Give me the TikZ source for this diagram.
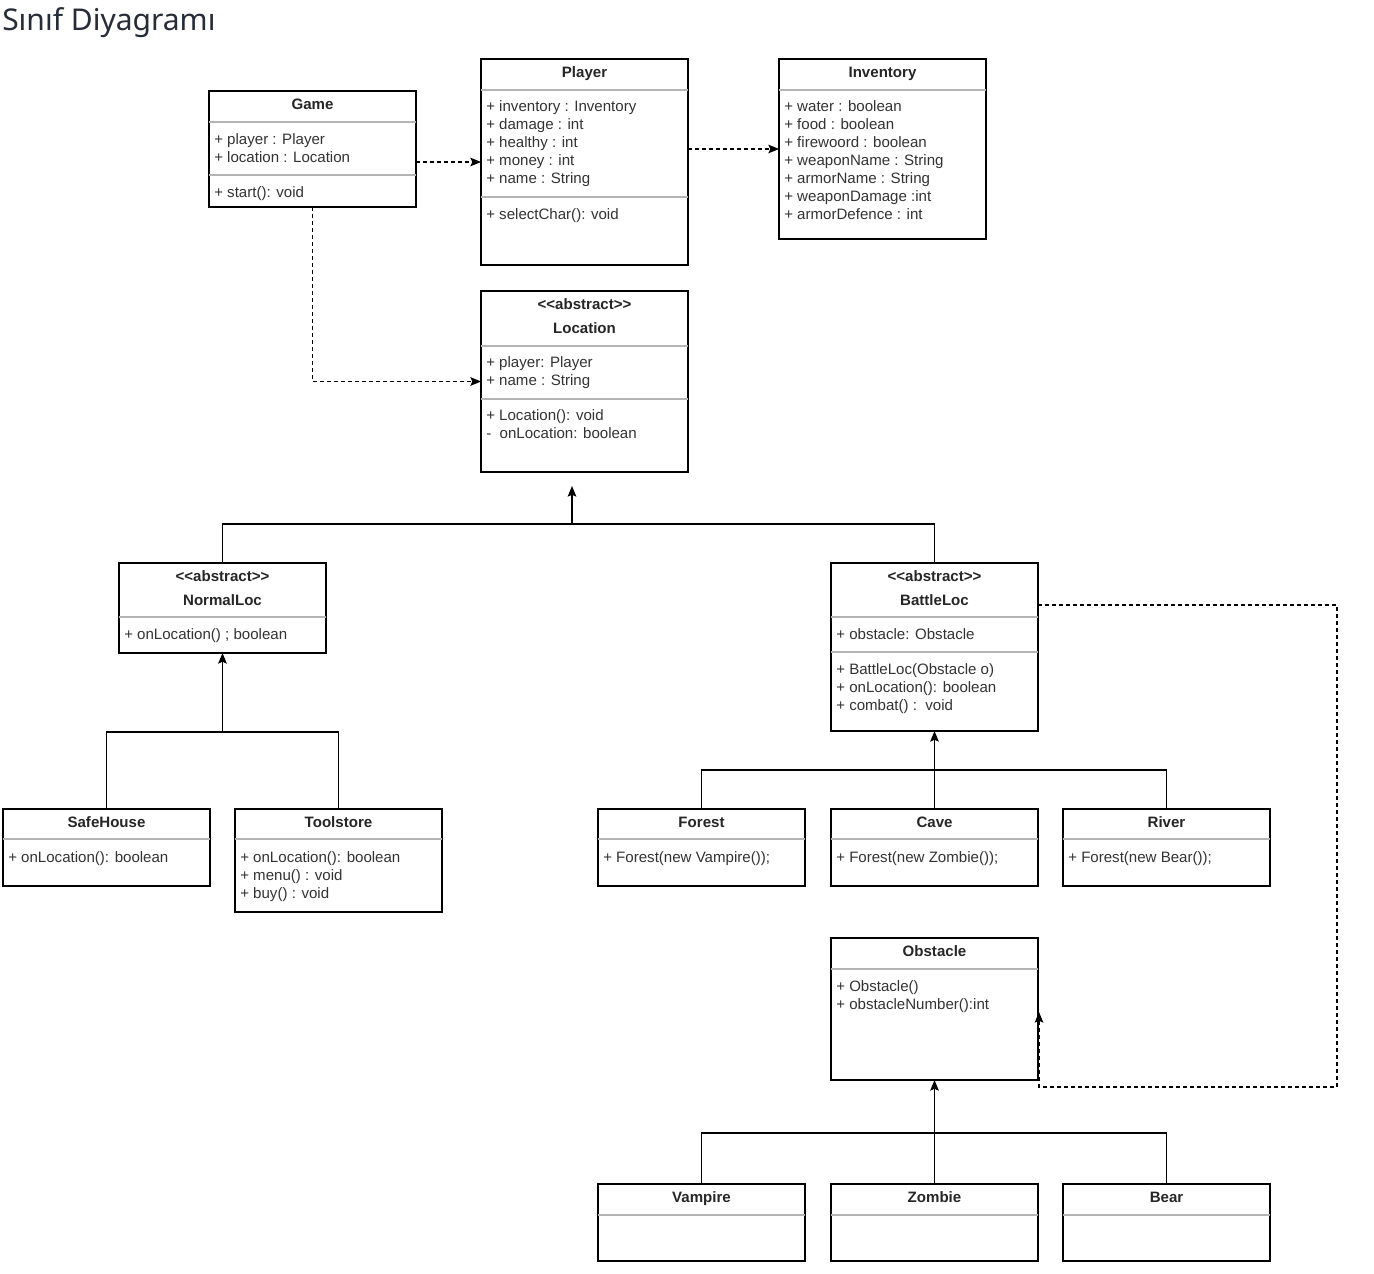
\documentclass[tikz,border=0pt]{standalone}
\usepackage{fontspec}
\setmainfont{Liberation Sans}
\newfontfamily\headfont{Noto Sans}
\usetikzlibrary{arrows.meta}
\definecolor{txt}{HTML}{333333}
\definecolor{sepgray}{HTML}{B4B4B4}
\definecolor{heading}{HTML}{262C38}
% rows of class members, 18px apart, starting at (x,y); nodes named prefix0, prefix1, ...
\newcommand\umlrows[4]{%
  \foreach \t [count=\i from 0] in {#3}
    \node[mem] (#4\i) at (#1,#2+18*\i+5.5) {\t};}
\newcommand\stereo{{<}{<}abstract{>}{>}}
\begin{document}
\begin{tikzpicture}[x=0.75pt,y=-0.75pt,
  umlbox/.style 2 args={draw=black, line width=1pt, inner sep=0pt, outer sep=0pt,
    anchor=north west, minimum width=#1*0.75pt, minimum height=#2*0.75pt},
  sep/.style={draw=sepgray, line width=1pt},
  cname/.style={anchor=base, yshift=-4.1pt, font=\bfseries\fontsize{11.3}{13}\selectfont,
    text=black!85, inner sep=0pt},
  mem/.style={anchor=base west, font=\fontsize{11.3}{13}\selectfont, text=txt, inner sep=0pt},
  link/.style={draw=black, line width=1pt},
  dep/.style={draw=black, line width=0.9pt, dash pattern=on 3pt off 2.25pt,
    -{Stealth[length=8pt, width=6.5pt, inset=1.5pt]}},
  inh/.style={draw=black, line width=1pt, -{Stealth[length=8pt, width=6.5pt, inset=1.5pt]}}
]
\useasboundingbox[fill=white] (0,0) rectangle (1374,1274);

% heading
\node[anchor=west, inner sep=0pt, font=\headfont\fontsize{22.5}{27}\selectfont, text=heading]
  (heading) at (2,23) {Sınıf Diyagramı};

% ---------- Game ----------
\node[umlbox={207}{116}] (game) at (209,91) {};
\draw[sep] (209,122) -- (416,122);
\draw[sep] (209,175) -- (416,175);
\node[cname] (gameT) at (312.5,104) {Game};
\umlrows{214}{139}{+ player : Player, + location : Location}{gameA}
\umlrows{214}{192}{+ start(): void}{gameM}

% ---------- Player ----------
\node[umlbox={207}{206}] (player) at (481,59) {};
\draw[sep] (481,90) -- (688,90);
\draw[sep] (481,197) -- (688,197);
\node[cname] (playerT) at (584.5,72) {Player};
\umlrows{486}{106}{+ inventory : Inventory, + damage : int, + healthy : int, + money : int, + name : String}{playerA}
\umlrows{486}{214}{+ selectChar(): void}{playerM}

% ---------- Inventory ----------
\node[umlbox={207}{180}] (inventory) at (779,59) {};
\draw[sep] (779,90) -- (986,90);
\node[cname] (inventoryT) at (882.5,72) {Inventory};
\umlrows{784}{106}{+ water : boolean, + food : boolean, + firewoord : boolean, + weaponName : String, + armorName : String, + weaponDamage :int, + armorDefence : int}{inventoryA}

% ---------- Location ----------
\node[umlbox={207}{181}] (location) at (481,291) {};
\draw[sep] (481,346) -- (688,346);
\draw[sep] (481,399) -- (688,399);
\node[cname] (locationS) at (584.5,304) {\stereo};
\node[cname] (locationT) at (584.5,328) {Location};
\umlrows{486}{362}{+ player: Player, + name : String}{locationA}
\umlrows{486}{415}{+ Location(): void, -\ \ onLocation: boolean}{locationM}

% ---------- NormalLoc ----------
\node[umlbox={207}{90}] (normalloc) at (119,563) {};
\draw[sep] (119,617) -- (326,617);
\node[cname] (normallocS) at (222.5,576) {\stereo};
\node[cname] (normallocT) at (222.5,600) {NormalLoc};
\umlrows{124}{634}{+ onLocation() ; boolean}{normallocA}

% ---------- BattleLoc ----------
\node[umlbox={207}{168}] (battleloc) at (831,563) {};
\draw[sep] (831,617) -- (1038,617);
\draw[sep] (831,652) -- (1038,652);
\node[cname] (battlelocS) at (934.5,576) {\stereo};
\node[cname] (battlelocT) at (934.5,600) {BattleLoc};
\umlrows{836}{634}{+ obstacle: Obstacle}{battlelocA}
\umlrows{836}{669}{+ BattleLoc(Obstacle o), + onLocation(): boolean, + combat() :\ \ void}{battlelocM}

% ---------- SafeHouse / Toolstore ----------
\node[umlbox={207}{77}] (safehouse) at (3,809) {};
\draw[sep] (3,839) -- (210,839);
\node[cname] (safehouseT) at (106.5,822) {SafeHouse};
\umlrows{8}{857}{+ onLocation(): boolean}{safehouseA}

\node[umlbox={207}{103}] (toolstore) at (235,809) {};
\draw[sep] (235,839) -- (442,839);
\node[cname] (toolstoreT) at (338.5,822) {Toolstore};
\umlrows{240}{857}{+ onLocation(): boolean, + menu() : void, + buy() : void}{toolstoreA}

% ---------- Forest / Cave / River ----------
\node[umlbox={207}{77}] (forest) at (598,809) {};
\draw[sep] (598,839) -- (805,839);
\node[cname] (forestT) at (701.5,822) {Forest};
\umlrows{603}{857}{+ Forest(new Vampire());}{forestA}

\node[umlbox={207}{77}] (cave) at (831,809) {};
\draw[sep] (831,839) -- (1038,839);
\node[cname] (caveT) at (934.5,822) {Cave};
\umlrows{836}{857}{+ Forest(new Zombie());}{caveA}

\node[umlbox={207}{77}] (river) at (1063,809) {};
\draw[sep] (1063,839) -- (1270,839);
\node[cname] (riverT) at (1166.5,822) {River};
\umlrows{1068}{857}{+ Forest(new Bear());}{riverA}

% ---------- Obstacle ----------
\node[umlbox={207}{142}] (obstacle) at (831,938) {};
\draw[sep] (831,969) -- (1038,969);
\node[cname] (obstacleT) at (934.5,951) {Obstacle};
\umlrows{836}{986}{+ Obstacle(), + obstacleNumber():int}{obstacleM}

% ---------- Vampire / Zombie / Bear ----------
\node[umlbox={207}{77}] (vampire) at (598,1184) {};
\draw[sep] (598,1215) -- (805,1215);
\node[cname] (vampireT) at (701.5,1197) {Vampire};

\node[umlbox={207}{77}] (zombie) at (831,1184) {};
\draw[sep] (831,1215) -- (1038,1215);
\node[cname] (zombieT) at (934.5,1197) {Zombie};

\node[umlbox={207}{77}] (bear) at (1063,1184) {};
\draw[sep] (1063,1215) -- (1270,1215);
\node[cname] (bearT) at (1166.5,1197) {Bear};

% ---------- dependencies ----------
\draw[dep] (game.east |- player.west) -- (player.west);
\draw[dep] (player.east |- inventory.west) -- (inventory.west);
\draw[dep] (game.south) |- (location.west);
\draw[dep] ([yshift=-31.5pt]battleloc.north east) -- ++(299,0) -- ++(0,482)
  -- ++(-298,0) -- ++(0,-75);

% ---------- generalisations ----------
\coordinate (locjoin) at (572,524);
\coordinate (loctip) at (572,486);
\draw[link] (normalloc.north) |- (locjoin) -| (battleloc.north);
\draw[inh] (locjoin) -- (loctip);

\coordinate (nljoin) at (222.5,732);
\draw[link] (safehouse.north) |- (nljoin) -| (toolstore.north);
\draw[inh] (nljoin) -- (normalloc.south);

\coordinate (bljoin) at (934.5,770);
\draw[link] (forest.north) |- (bljoin) -| (river.north);
\draw[inh] (cave.north) -- (battleloc.south);

\coordinate (objoin) at (934.5,1133);
\draw[link] (vampire.north) |- (objoin) -| (bear.north);
\draw[inh] (zombie.north) -- (obstacle.south);
\end{tikzpicture}
\end{document}
